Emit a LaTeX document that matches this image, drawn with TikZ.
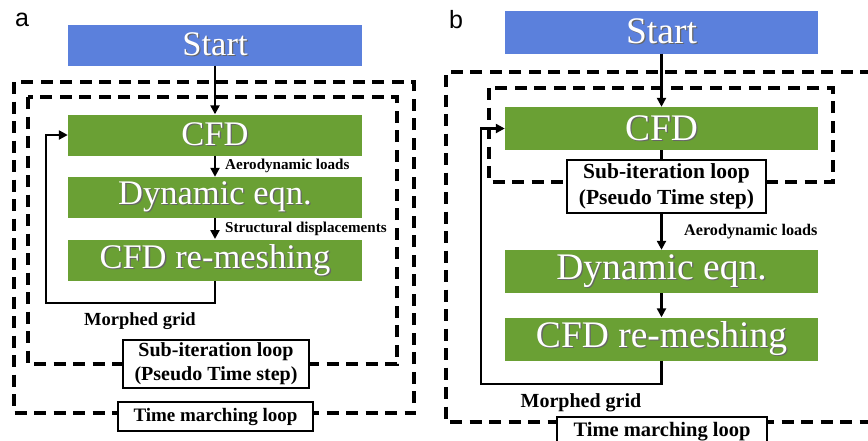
\documentclass[tikz,border=0pt]{standalone}
\usepackage{fontspec}
\setmainfont{Liberation Serif}
\newfontfamily\labfont{Liberation Sans}
\usetikzlibrary{arrows.meta}
\definecolor{startblue}{RGB}{91,128,220}
\definecolor{stepgreen}{RGB}{106,160,52}
\newcommand\shtxt[1]{\rlap{\kern1.3pt\raisebox{-1.3pt}{\color{black!60}#1}}#1}
\begin{document}
\begin{tikzpicture}[x=1pt,y=-1pt,
  blka/.style={fill=#1, minimum width=294pt, minimum height=41pt, inner sep=0pt, text=white, font=\fontsize{34.5}{36}\selectfont},
  blkb/.style={fill=#1, minimum width=313pt, minimum height=43pt, inner sep=0pt, text=white, font=\fontsize{37.5}{39}\selectfont},
  loopbox/.style={draw, line width=1.2pt, fill=white, align=center, inner sep=0pt},
  lbl/.style={font=\bfseries\fontsize{#1}{#1}\selectfont, inner sep=0pt},
  flow/.style={line width=2.8pt, line join=miter, -{Triangle[width=9pt,length=9pt]}},
  plain/.style={line width=2.8pt},
  loopline/.style={line width=3.5pt, dash pattern=on 12pt off 7.5pt},
  panel/.style={font=\labfont\fontsize{25}{25}\selectfont, inner sep=0pt}
]
\clip (0,0) rectangle (868,440);
\fill[white] (0,0) rectangle (868,440);

% ---------------- panel a ----------------
\node[panel] (pa) at (22,20) {a};
\draw[loopline] (14,82) rectangle (414,413);
\draw[loopline] (28,97) rectangle (397,364);

\node[blka=startblue] (sa) at (215,45) {\shtxt{Start}};
\node[blka=stepgreen] (cfda) at (215,135) {\shtxt{CFD}};
\node[blka=stepgreen] (dyna) at (215,197.5) {\shtxt{Dynamic eqn.}};
\node[blka=stepgreen] (rema) at (215,260.5) {\shtxt{CFD re-meshing}};

\draw[flow] (sa.south) -- (cfda.north);
\draw[flow] (cfda.south) -- (dyna.north);
\draw[flow] (dyna.south) -- (rema.south |- 0,239);
\coordinate (fa) at (46,303);
\draw[flow] (rema.south) |- (fa) |- (cfda.west);

\node[lbl=15.1, anchor=west] (aera) at (225,166) {Aerodynamic loads};
\node[lbl=15.1, anchor=west] (stra) at (225,229) {Structural displacements};
\node[lbl=18.5] (mora) at (140,321) {Morphed grid};

\node[loopbox, minimum width=186pt, minimum height=48pt, font=\bfseries\fontsize{20}{24}\selectfont] (suba) at (216,364) {Sub-iteration loop\\(Pseudo Time step)};
\node[loopbox, minimum width=195pt, minimum height=29pt, font=\bfseries\fontsize{19}{19}\selectfont] (tma) at (215.5,416.5) {Time marching loop};

% ---------------- panel b ----------------
\node[panel] (pb) at (456,20) {b};
\draw[loopline] (872,72) -- (446,72) -- (446,422) -- (872,422);
\draw[loopline] (489,88) rectangle (833,182);

\node[blkb=startblue] (sb) at (661.5,32) {\shtxt{Start}};
\node[blkb=stepgreen] (cfdb) at (661.5,128.5) {\shtxt{CFD}};
\node[blkb=stepgreen] (dynb) at (661.5,271.5) {\shtxt{Dynamic eqn.}};
\node[blkb=stepgreen] (remb) at (661.5,339) {\shtxt{CFD re-meshing}};

\node[loopbox, minimum width=199pt, minimum height=53pt, font=\bfseries\fontsize{21.5}{26}\selectfont] (subb) at (666.5,186.5) {Sub-iteration loop\\(Pseudo Time step)};

\draw[flow] (sb.south) -- (cfdb.north);
\draw[plain] (cfdb.south) -- (cfdb.south |- subb.north);
\draw[flow] (cfdb.south |- subb.south) -- (dynb.north);
\draw[flow] (dynb.south) -- (remb.north);
\coordinate (fb) at (481,384);
\draw[flow] (remb.south) |- (fb) |- (cfdb.west);

\node[lbl=16.2, anchor=west] (aerb) at (684,232) {Aerodynamic loads};
\node[lbl=20] (morb) at (581,403) {Morphed grid};

\node[loopbox, minimum width=210pt, minimum height=30pt, font=\bfseries\fontsize{20.5}{20.5}\selectfont] (tmb) at (662,432) {Time marching loop};
\end{tikzpicture}
\end{document}
